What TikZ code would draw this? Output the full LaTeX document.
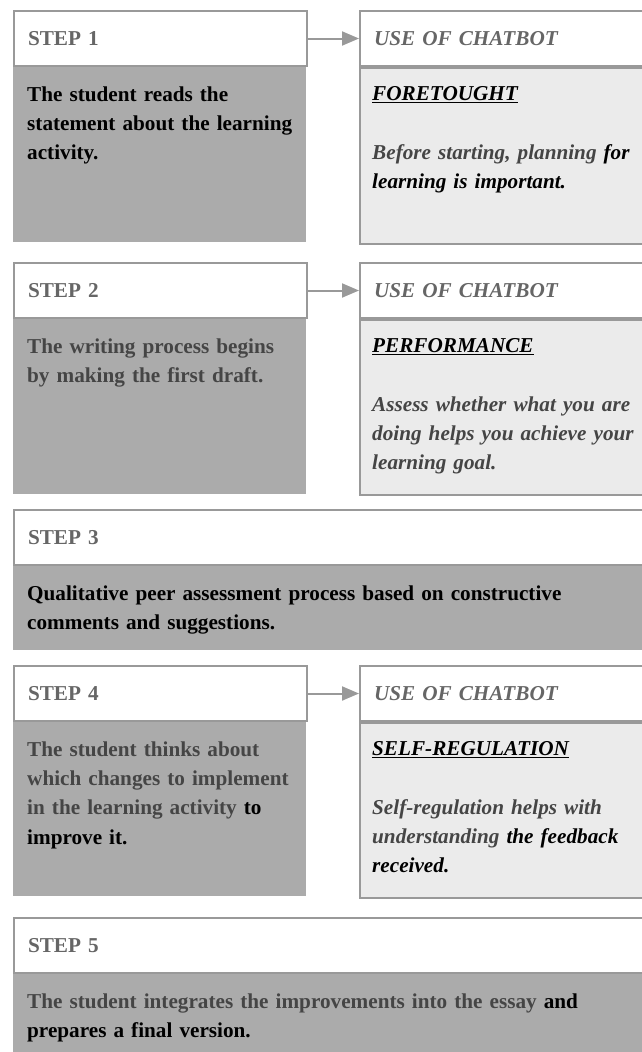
\documentclass[tikz,border=0pt]{standalone}
\usepackage{fontspec}
\setmainfont{Liberation Serif}
\usetikzlibrary{positioning,arrows.meta}
\definecolor{linegray}{HTML}{999999}
\definecolor{boxgray}{HTML}{ABABAB}
\definecolor{palegray}{HTML}{EBEBEB}
\definecolor{headtxt}{HTML}{666666}
\definecolor{softtxt}{HTML}{454545}

\begin{document}
\begin{tikzpicture}[x=1pt,y=-1pt,font=\fontsize{21.2}{29.3}\selectfont\bfseries,
  head/.style={draw=linegray,line width=2pt,fill=white,anchor=south west,minimum height=55pt,
    inner xsep=14pt,inner ysep=0pt,text width=#1,align=left,text=headtxt},
  chead/.style={head=#1,font=\fontsize{21.2}{29.3}\selectfont\bfseries\itshape},
  stepbody/.style={fill=boxgray,anchor=north west,inner sep=0pt},
  chatbody/.style={draw=linegray,line width=2pt,fill=palegray,anchor=north west,inner sep=0pt},
  bodytext/.style={anchor=north west,inner sep=0pt,text width=#1,align=left},
  chattext/.style={bodytext=#1,font=\fontsize{21.2}{29.3}\selectfont\bfseries\itshape},
  arrowline/.style={draw=linegray,line width=2pt,-{Triangle[length=17pt,width=14pt]}}]
\useasboundingbox (0,0) rectangle (642,1052);

% step 1
\node[stepbody,minimum width=293pt,minimum height=175pt](b_1) at (13,67){};
\node[chatbody,minimum width=302pt,minimum height=176pt](c_1) at (359,67){};
\node[head=265pt](h_1) at (b_1.north west){STEP 1};
\node[chead=274pt](u_1) at (c_1.north west){USE OF CHATBOT};
\node[bodytext=275pt](t_1) at ([xshift=14pt,yshift=-19.2pt]b_1.north west){The student reads the\\statement about the learning\\activity.};
\node[chattext=280pt](s_1) at ([xshift=13pt,yshift=-19.2pt]c_1.north west){\underline{FORETOUGHT}\\[29.3pt]\textcolor{softtxt}{Before starting, planning} for\\learning is important.};
\draw[arrowline] (h_1) -- (u_1);

% step 2
\node[stepbody,minimum width=293pt,minimum height=175pt](b_2) at (13,319){};
\node[chatbody,minimum width=302pt,minimum height=175pt](c_2) at (359,319){};
\node[head=265pt](h_2) at (b_2.north west){STEP 2};
\node[chead=274pt](u_2) at (c_2.north west){USE OF CHATBOT};
\node[bodytext=275pt,text=softtxt](t_2) at ([xshift=14pt,yshift=-19.2pt]b_2.north west){The writing process begins\\by making the first draft.};
\node[chattext=280pt,text=softtxt](s_2) at ([xshift=13pt,yshift=-19.2pt]c_2.north west){\textcolor{black}{\underline{PERFORMANCE}}\\[29.3pt]Assess whether what you are\\doing helps you achieve your\\learning goal.};
\draw[arrowline] (h_2) -- (u_2);

% step 3
\node[stepbody,minimum width=650pt,minimum height=84pt](b_3) at (13,566){};
\node[head=622pt](h_3) at (b_3.north west){STEP 3};
\node[bodytext=600pt](t_3) at ([xshift=14pt,yshift=-19.2pt]b_3.north west){Qualitative peer assessment process based on constructive\\comments and suggestions.};

% step 4
\node[stepbody,minimum width=293pt,minimum height=174pt](b_4) at (13,722){};
\node[chatbody,minimum width=302pt,minimum height=175pt](c_4) at (359,722){};
\node[head=265pt](h_4) at (b_4.north west){STEP 4};
\node[chead=274pt](u_4) at (c_4.north west){USE OF CHATBOT};
\node[bodytext=275pt](t_4) at ([xshift=14pt,yshift=-19.2pt]b_4.north west){\textcolor{softtxt}{The student thinks about}\\\textcolor{softtxt}{which changes to implement}\\\textcolor{softtxt}{in the learning activity} to\\improve it.};
\node[chattext=280pt](s_4) at ([xshift=13pt,yshift=-19.2pt]c_4.north west){\underline{SELF-REGULATION}\\[29.3pt]\textcolor{softtxt}{Self-regulation helps with}\\\textcolor{softtxt}{understanding} the feedback\\received.};
\draw[arrowline] (h_4) -- (u_4);

% step 5
\node[stepbody,minimum width=650pt,minimum height=90pt](b_5) at (13,974){};
\node[head=622pt](h_5) at (b_5.north west){STEP 5};
\node[bodytext=600pt](t_5) at ([xshift=14pt,yshift=-19.2pt]b_5.north west){\textcolor{softtxt}{The student integrates the improvements into the essay} and\\prepares a final version.};
\end{tikzpicture}
\end{document}
